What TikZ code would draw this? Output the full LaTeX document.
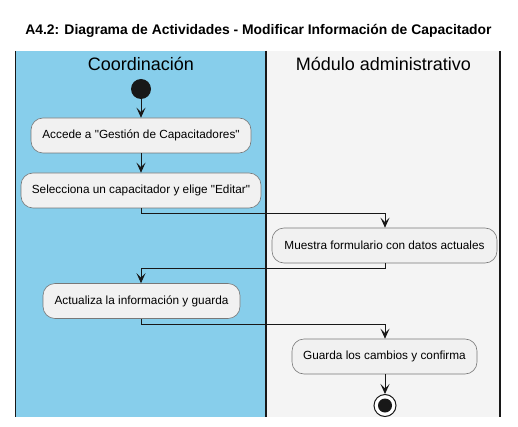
\documentclass[tikz,border=0pt]{standalone}
\usepackage{fontspec}
\setmainfont{Liberation Sans}[Ligatures=TeXOff]
\usetikzlibrary{arrows.meta}
\definecolor{laneA}{RGB}{135,206,235}
\definecolor{laneB}{RGB}{244,244,244}
\definecolor{actfill}{RGB}{241,241,241}
\definecolor{actdraw}{RGB}{120,120,120}
\definecolor{ink}{RGB}{24,24,24}
\begin{document}
\begin{tikzpicture}[x=1pt,y=-1pt,
  act/.style={draw=actdraw,fill=actfill,rounded corners=12pt,minimum height=35pt,inner xsep=9pt,font=\fontsize{11.8}{14}\selectfont,line width=0.6pt},
  flow/.style={draw=ink,line width=0.9pt,-{Stealth[length=10pt,width=9pt,inset=4.5pt]}},
  lanehead/.style={font=\fontsize{18}{21}\selectfont,text=black}]
\useasboundingbox (0,0) rectangle (518,427);
\fill[white] (0,0) rectangle (518,427);
% lanes
\fill[laneA] (15.5,51) rectangle (266,416.5);
\fill[laneB] (266,51) rectangle (500,416.5);
\draw[ink,line width=1.4pt] (15.5,51) -- (15.5,416.5);
\draw[ink,line width=1.4pt] (266,51) -- (266,416.5);
\draw[ink,line width=1.4pt] (500,51) -- (500,416.5);
% title
\node[font=\bfseries\fontsize{13.9}{16}\selectfont] (title) at (258.5,31) {A4.2: Diagrama de Actividades - Modificar Información de Capacitador};
\node[lanehead] (h1) at (141,64) {Coordinación};
\node[lanehead] (h2) at (383.5,64) {Módulo administrativo};
% nodes
\node[circle,fill=ink,minimum size=20pt,inner sep=0pt] (start) at (141,89) {};
\node[act,minimum width=220pt] (a1) at (141,135.5) {Accede a "Gestión de Capacitadores"};
\node[act,minimum width=240pt] (a2) at (141,190.5) {Selecciona un capacitador y elige "Editar"};
\node[act,minimum width=225pt] (a3) at (384.5,245.5) {Muestra formulario con datos actuales};
\node[act,minimum width=197pt] (a4) at (141.5,301) {Actualiza la información y guarda};
\node[act,minimum width=185pt] (a5) at (384.5,356.5) {Guarda los cambios y confirma};
\node[circle,draw=ink,line width=1pt,fill=white,minimum size=22pt,inner sep=0pt] (end) at (385,405.5) {};
\node[circle,fill=ink,minimum size=14pt,inner sep=0pt] (endin) at (end.center) {};
% flows
\coordinate (c1) at (141,213);
\coordinate (c2) at (385,213);
\coordinate (c3) at (385,268);
\coordinate (c4) at (141,268);
\coordinate (c5) at (141,324);
\coordinate (c6) at (385,324);
\draw[flow] (start) -- (a1);
\draw[flow] (a1) -- (a2);
\draw[flow] (a2.south) -- (c1) -- (c2) -- (c2 |- a3.north);
\draw[flow] (a3.south -| c3) -- (c3) -- (c4) -- (c4 |- a4.north);
\draw[flow] (a4.south -| c5) -- (c5) -- (c6) -- (c6 |- a5.north);
\draw[flow] (a5.south -| end) -- (end);
\end{tikzpicture}
\end{document}
